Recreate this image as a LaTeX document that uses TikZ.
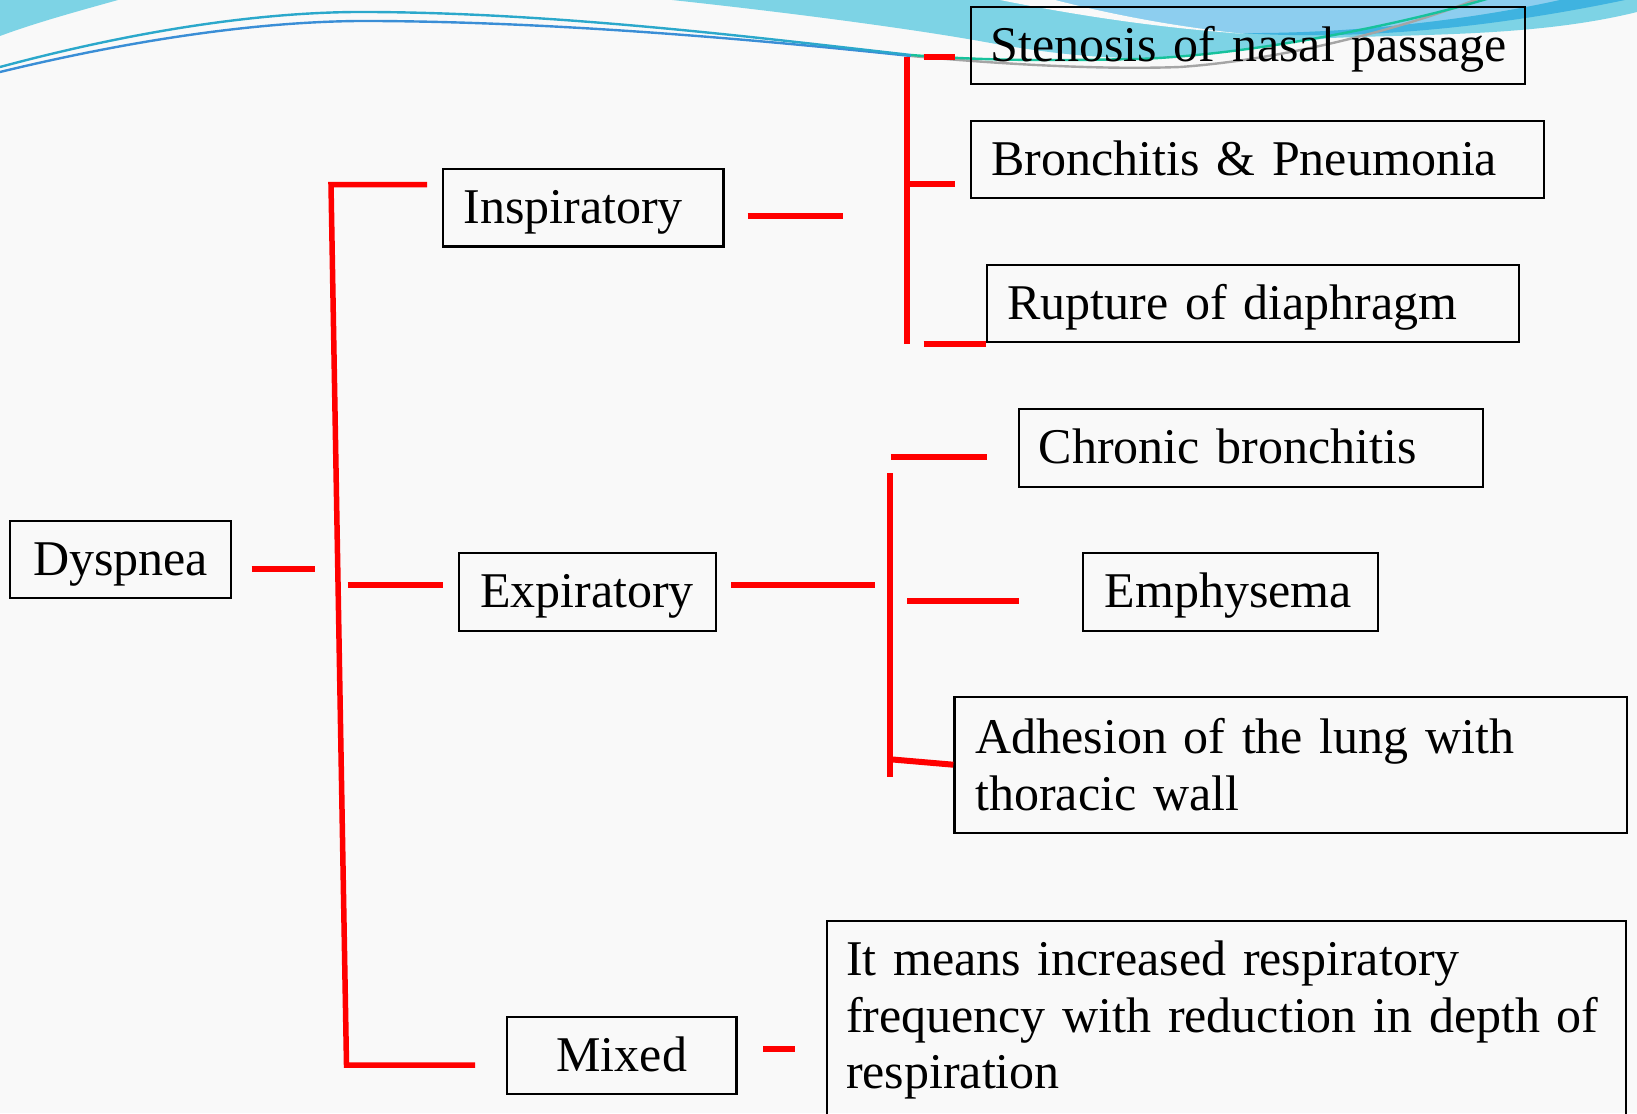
\documentclass[tikz,border=0pt]{standalone}
\usepackage{fontspec}
\setmainfont[WordSpace=0.85]{Liberation Serif}
\definecolor{paper}{HTML}{F9F9F9}
\definecolor{flowcyan}{HTML}{7DD3E5}
\definecolor{flowsky}{HTML}{8DCEEF}
\definecolor{flowblue}{HTML}{3FB3E0}
\definecolor{lineteal}{HTML}{2BA8CB}
\definecolor{linegreen}{HTML}{17C29C}
\definecolor{lineblue}{HTML}{3A8ED6}
\definecolor{linegray}{HTML}{A5A5A5}
\definecolor{linkred}{HTML}{FF0000}
\newcommand\diagfont{\fontsize{25}{28.35}\selectfont}
\begin{document}
\begin{tikzpicture}[x=0.5pt,y=-0.5pt,
  catbox/.style={draw=black, line width=1.1pt, inner ysep=0pt, font=\diagfont, align=left},
  oneline/.style={text height=16.5pt, text depth=0.5pt},
  link/.style={draw=linkred, line width=3pt},
  spine/.style={draw=linkred, line width=2.75pt, line join=miter}]

% page and header swoosh
\useasboundingbox (0,0) rectangle (1637,1113);
\fill[paper] (0,0) rectangle (1637,1113);
\clip (0,0) rectangle (1637,1113);
\fill[flowcyan] (0,0) -- (118,0) .. controls (75,12) and (35,23) .. (0,36) -- cycle;
\fill[flowcyan] (672,0) .. controls (820,16) and (930,32) .. (985,42)
  .. controls (1040,52) and (1090,58) .. (1140,58)
  .. controls (1210,57) and (1260,46) .. (1330,38)
  .. controls (1430,34) and (1540,36) .. (1637,12) -- (1637,0) -- cycle;
\fill[flowsky] (1055,0) .. controls (1110,14) and (1170,26) .. (1240,33)
  .. controls (1350,34) and (1470,20) .. (1560,0) -- cycle;
\fill[flowblue] (1240,33) .. controls (1350,34) and (1470,20) .. (1560,0)
  -- (1625,0) .. controls (1520,22) and (1380,42) .. (1240,33) -- cycle;
\fill[paper] (1000,0) .. controls (1070,14) and (1150,27) .. (1245,34)
  .. controls (1170,26) and (1110,14) .. (1055,0) -- cycle;
\draw[lineblue, line width=1.2pt] (0,72) .. controls (140,38) and (270,20) .. (375,21)
  .. controls (560,22) and (760,40) .. (911,56);
\draw[lineteal, line width=1.2pt] (0,67) .. controls (130,32) and (260,11) .. (370,12)
  .. controls (560,13) and (760,38) .. (911,55);
\draw[linegray, line width=1.2pt] (911,56) .. controls (1000,64) and (1100,70) .. (1180,67)
  .. controls (1280,60) and (1400,30) .. (1480,-2);
\draw[linegreen, line width=1.2pt] (911,55) .. controls (1000,62) and (1080,60) .. (1138,59)
  .. controls (1250,55) and (1400,25) .. (1490,-2);

% boxes
\node[catbox, oneline, inner xsep=10pt, text width=90.15pt, align=center, minimum height=38.5pt] (dys) at (120.5,559.5) {\mbox{Dyspnea}};
\node[catbox, oneline, inner xsep=10.4pt, text width=119.6pt, minimum height=38.7pt] (insp) at (583.1,207.7) {\mbox{Inspiratory}};
\node[catbox, oneline, inner xsep=10.7pt, text width=107.3pt, minimum height=39pt] (expi) at (587.3,591.7) {\mbox{Expiratory}};
\node[catbox, oneline, inner xsep=10pt, text width=94.75pt, align=center, minimum height=38.8pt] (mixed) at (621.75,1055.5) {\mbox{Mixed}};
\node[catbox, oneline, inner xsep=9.9pt, text width=257.3pt, minimum height=38.65pt] (sten) at (1247.9,45.35) {\mbox{Stenosis of nasal passage}};
\node[catbox, oneline, inner xsep=10.4pt, text width=265.8pt, minimum height=38.65pt] (bron) at (1257.4,159.65) {\mbox{Bronchitis \& Pneumonia}};
\node[catbox, oneline, inner xsep=10.3pt, text width=245.45pt, minimum height=38.65pt] (rupt) at (1252.95,303.65) {\mbox{Rupture of diaphragm}};
\node[catbox, oneline, inner xsep=9.9pt, text width=212.1pt, minimum height=38.85pt] (chron) at (1250.9,447.85) {\mbox{Chronic bronchitis}};
\node[catbox, oneline, inner xsep=10.8pt, text width=125.7pt, minimum height=38.85pt] (emph) at (1230.3,591.85) {\mbox{Emphysema}};
\node[catbox, inner xsep=10.5pt, text width=315.3pt, minimum height=68pt] (adh) at (1290.7,764.7) {Adhesion of the lung with\\thoracic wall};
\node[catbox, inner xsep=9.5pt, text width=380.35pt, minimum height=99.5pt] (mean) at (1226.35,1020.2) {It means increased respiratory\\frequency with reduction in depth of\\respiration};

% connector end points
\coordinate (dA) at (251.6,569);   \coordinate (dB) at (315,569);
\coordinate (sT) at (427,184.5);   \coordinate (sTL) at (331,184.5);
\coordinate (sBL) at (346.5,1065); \coordinate (sB) at (475,1065);
\coordinate (eA) at (347.5,585);   \coordinate (eB) at (442.6,585);
\coordinate (iA) at (747.5,216);   \coordinate (iB) at (842.5,216);
\coordinate (ivT) at (907,57);     \coordinate (ivB) at (907,344.3);
\coordinate (itA) at (923.5,57);   \coordinate (itB) at (954.7,57);
\coordinate (imA) at (907,184.3);  \coordinate (imB) at (954.7,184.3);
\coordinate (ibA) at (923.5,344.3);\coordinate (ibB) at (986.4,344.3);
\coordinate (xA) at (731,584.6);   \coordinate (xB) at (874.7,584.6);
\coordinate (xvT) at (890.3,473);  \coordinate (xvB) at (890.3,777);
\coordinate (xtA) at (890.9,456.7);\coordinate (xtB) at (986.8,456.7);
\coordinate (xmA) at (907,600.7);  \coordinate (xmB) at (1019,600.7);
\coordinate (xbA) at (890.3,759.3);
\coordinate (mA) at (763,1049);    \coordinate (mB) at (794.5,1049);

% red connectors
\draw[link] (dA) -- (dB);
\draw[spine] (sT) -- (sTL) -- (sBL) -- (sB);
\draw[link] (eA) -- (eB);
\draw[link] (iA) -- (iB);
\draw[link] (ivT) -- (ivB);
\draw[link] (itA) -- (itB);
\draw[link] (imA) -- (imB);
\draw[link] (ibA) -- (ibB);
\draw[link] (xA) -- (xB);
\draw[link] (xvT) -- (xvB);
\draw[link] (xtA) -- (xtB);
\draw[link] (xmA) -- (xmB);
\draw[link] (xbA) -- (adh.west);
\draw[link] (mA) -- (mB);
\end{tikzpicture}
\end{document}
